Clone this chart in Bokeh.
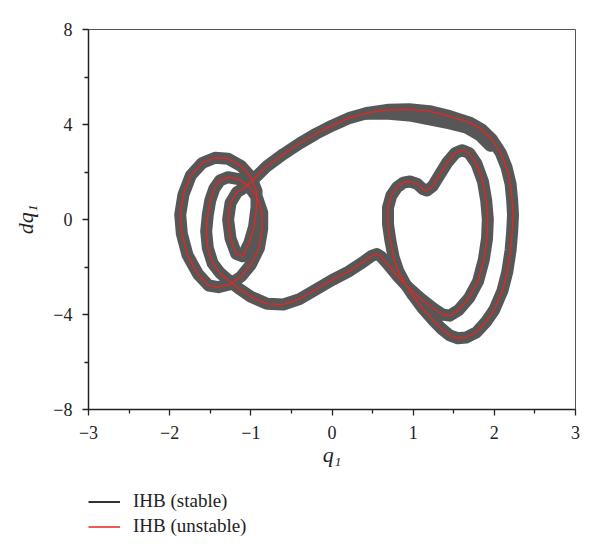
from bokeh.plotting import figure
from bokeh.layouts import column
from bokeh.models import Legend, LegendItem, FixedTicker
from bokeh.embed import file_html
from bokeh.resources import INLINE

# ---- data (q1, dq1 along the periodic orbit) ----
q_orbit = [
    -1.05, -0.95, -0.80, -0.60, -0.40, -0.19, 0.00, 0.22, 0.45, 0.70, 0.95, 1.20, 1.45, 1.70,
    1.85, 1.97, 2.08, 2.15, 2.20, 2.22, 2.23, 2.22, 2.20, 2.16, 2.10, 2.00, 1.90, 1.78, 1.65,
    1.55, 1.45, 1.35, 1.25, 1.12, 1.00, 0.90, 0.82, 0.76, 0.72, 0.69, 0.69, 0.73, 0.80, 0.88,
    0.96, 1.05, 1.12, 1.17, 1.24, 1.32, 1.42, 1.52, 1.60, 1.69, 1.78, 1.86, 1.90, 1.92, 1.91,
    1.87, 1.80, 1.69, 1.56, 1.45, 1.36, 1.25, 1.10, 0.95, 0.80, 0.68, 0.60, 0.55, 0.48, 0.38,
    0.20, 0.00, -0.20, -0.40, -0.60, -0.80, -1.00, -1.15, -1.26, -1.38, -1.47, -1.53, -1.55,
    -1.53, -1.50, -1.45, -1.38, -1.28, -1.15, -1.02, -0.92, -0.86, -0.86, -0.90, -1.00, -1.12,
    -1.25, -1.40, -1.52, -1.65, -1.78, -1.85, -1.87, -1.83, -1.74, -1.60, -1.44, -1.28, -1.12,
    -1.00, -0.93, -0.93, -0.96, -1.02, -1.10, -1.18, -1.25, -1.28, -1.25, -1.17, -1.05,
]
dq_orbit = [
    1.40, 1.75, 2.25, 2.75, 3.20, 3.62, 3.95, 4.28, 4.50, 4.62, 4.64, 4.56, 4.35, 4.08,
    3.78, 3.38, 2.80, 2.20, 1.50, 0.80, 0.20, -0.50, -1.30, -2.20, -3.00, -3.80, -4.30, -4.75, -4.97,
    -5.00, -4.88, -4.60, -4.25, -3.75, -3.20, -2.70, -2.20, -1.60, -0.90, -0.20, 0.50, 1.00, 1.35, 1.55,
    1.60, 1.50, 1.28, 1.22, 1.40, 1.85, 2.40, 2.80, 2.92, 2.80, 2.35, 1.60, 0.80, 0.00, -0.80,
    -1.70, -2.60, -3.30, -3.82, -4.05, -4.00, -3.75, -3.35, -2.90, -2.35, -1.85, -1.55, -1.45, -1.55, -1.80,
    -2.20, -2.55, -2.95, -3.35, -3.58, -3.55, -3.25, -2.90, -2.60, -2.25, -1.85, -1.20, -0.50,
    0.20, 0.80, 1.30, 1.65, 1.78, 1.70, 1.40, 0.90, 0.30, -0.40, -1.20, -1.90, -2.40,
    -2.72, -2.85, -2.78, -2.30, -1.50, -0.60, 0.20, 1.05, 1.85, 2.38, 2.60, 2.56, 2.25,
    1.80, 1.20, 0.50, -0.30, -1.00, -1.55, -1.45, -0.80, 0.00, 0.70, 1.15, 1.40,
]

# lower edge of the stable bundle where it spreads, near the top-right of the arc
q_spread = [0.40, 0.70, 0.95, 1.20, 1.45, 1.65, 1.82, 1.95]
dq_spread = [4.45, 4.45, 4.38, 4.22, 4.05, 3.88, 3.55, 3.10]

x_ticks = [-3, -2, -1, 0, 1, 2, 3]
y_ticks = [-8, -4, 0, 4, 8]
x_minor = [-2.5, -1.5, -0.5, 0.5, 1.5, 2.5]
y_minor = [-6, -2, 2, 6]

series_labels = ["IHB (stable)", "IHB (unstable)"]
stable_color = "#575757"
unstable_color = "#e8251f"

SERIF = "Liberation Serif"

p = figure(width=592, height=478, x_range=(-3, 3), y_range=(-8, 8),
           output_backend="svg", toolbar_location=None,
           min_border_left=88, min_border_right=17, min_border_top=29, min_border_bottom=69)

p.xgrid.visible = False
p.ygrid.visible = False
p.background_fill_color = "white"
p.border_fill_color = "white"
p.outline_line_color = "#555555"
p.outline_line_width = 1

p.xaxis.ticker = FixedTicker(ticks=x_ticks, minor_ticks=x_minor)
p.yaxis.ticker = FixedTicker(ticks=y_ticks, minor_ticks=y_minor)

def minus(v):
    return str(v).replace("-", "\u2212")

p.xaxis.major_label_overrides = {v: minus(v) for v in x_ticks}
p.yaxis.major_label_overrides = {v: minus(v) for v in y_ticks}

for ax in (p.xaxis[0], p.yaxis[0]):
    ax.axis_line_color = "#222222"
    ax.axis_line_width = 1.5
    ax.major_tick_line_color = "#222222"
    ax.major_tick_line_width = 1.3
    ax.minor_tick_line_color = "#222222"
    ax.minor_tick_line_width = 1.3
    ax.major_tick_in = 0
    ax.major_tick_out = 6
    ax.minor_tick_in = 0
    ax.minor_tick_out = 4
    ax.major_label_text_font = SERIF
    ax.major_label_text_font_size = "18px"
    ax.major_label_text_color = "#222222"
    ax.axis_label_text_font = SERIF
    ax.axis_label_text_font_style = "italic"
    ax.axis_label_text_font_size = "22px"
    ax.axis_label_text_color = "#222222"

p.xaxis.axis_label = "q\u2081"
p.yaxis.axis_label = "dq\u2081"
p.xaxis.major_label_standoff = 10
p.xaxis.axis_label_standoff = 0
p.yaxis.major_label_standoff = 10
p.yaxis.axis_label_standoff = 12

# stable orbit bundle (thick band) and unstable orbit (thin red)
p.line(q_spread, dq_spread, line_color=stable_color, line_width=12,
       line_join="round", line_cap="round")
p.line(q_orbit, dq_orbit, line_color=stable_color, line_width=12,
       line_join="round", line_cap="round")
p.line(q_orbit, dq_orbit, line_color=unstable_color, line_width=1.3, line_join="round")

# legend panel below the plot (its frame is aligned with the plot frame)
lg = figure(width=592, height=67, x_range=(100, 101), y_range=(100, 101),
            output_backend="svg", toolbar_location=None, min_border=0)
lg.axis.visible = False
lg.grid.visible = False
lg.outline_line_color = None
lg.background_fill_color = "white"
lg.border_fill_color = "white"

# legend proxies: same series, drawn out of this panel's view
leg_s = lg.line(q_orbit, dq_orbit, line_color="#333333", line_width=1.8)
leg_u = lg.line(q_orbit, dq_orbit, line_color=unstable_color, line_width=1.5)

legend = Legend(items=[LegendItem(label=series_labels[0], renderers=[leg_s]),
                       LegendItem(label=series_labels[1], renderers=[leg_u])],
                location=(0, 8), padding=0, margin=0, spacing=3,
                glyph_width=32, glyph_height=21, label_height=21, label_standoff=13,
                label_text_font=SERIF, label_text_font_size="19px",
                label_text_color="#222222",
                border_line_alpha=0, background_fill_alpha=0)
lg.add_layout(legend)

layout = column(p, lg, spacing=0)
open("out.html", "w").write(file_html(layout, INLINE))
